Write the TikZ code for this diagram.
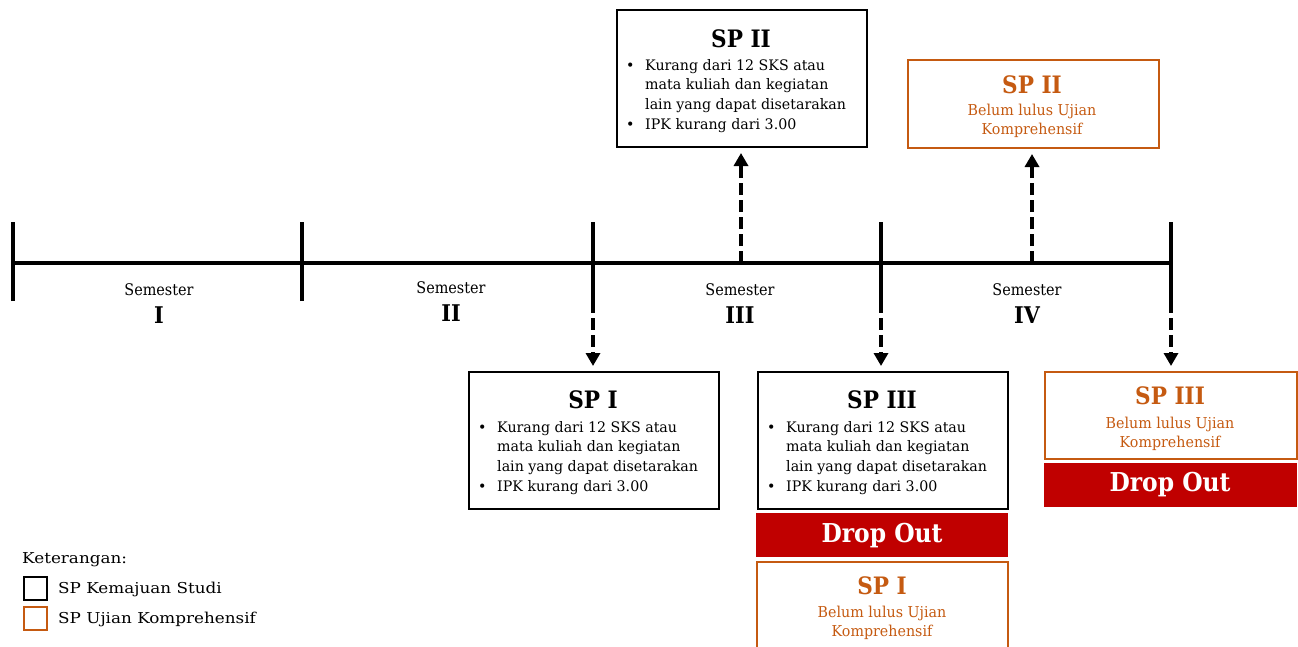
\documentclass[tikz,border=0pt]{standalone}
\usepackage{fontspec}
\setmainfont{DejaVu Serif}
\newfontfamily\ttlfont{DejaVu Serif}[FakeStretch=0.9]
\newfontfamily\bodyfont{DejaVu Serif}[FakeStretch=0.98]
\newfontfamily\orfont{DejaVu Serif}[FakeStretch=0.95]
\newfontfamily\semfont{DejaVu Serif}[FakeStretch=0.9]
\newfontfamily\legfont{DejaVu Serif}[FakeStretch=1.12]
\usetikzlibrary{arrows.meta}
\definecolor{orng}{HTML}{C55A11}
\definecolor{dred}{HTML}{C00000}
\newcommand{\bul}[1]{\makebox[19pt][l]{\textbullet}#1}
\newcommand{\cnt}[1]{\hspace*{19pt}#1}
\newcommand{\splist}{\parbox[t]{300pt}{\raggedright\bul{Kurang dari 12 SKS atau}\\\cnt{mata kuliah dan kegiatan}\\\cnt{lain yang dapat disetarakan}\\\bul{IPK kurang dari 3.00}}}
\begin{document}
\begin{tikzpicture}[x=1pt,y=-1pt,
  tl/.style={line width=4pt},
  kbox/.style={draw=black, line width=2pt, anchor=north west, minimum width=250pt, minimum height=137pt, inner sep=0pt},
  ubox/.style={draw=orng, line width=2pt, anchor=north west, minimum width=251pt, minimum height=88pt, inner sep=0pt},
  dropbox/.style={fill=dred, anchor=north west, minimum width=252pt, minimum height=44pt, inner sep=0pt},
  droptxt/.style={anchor=base, inner sep=0pt, text=white, font=\ttlfont\bfseries\fontsize{26}{26}\selectfont},
  ttl/.style={anchor=base, inner sep=0pt, font=\ttlfont\bfseries\fontsize{24}{24}\selectfont},
  lst/.style={anchor=base west, inner sep=0pt, font=\bodyfont\fontsize{14.5}{19.7}\selectfont},
  utxt/.style={anchor=base, inner sep=0pt, text=orng, font=\orfont\fontsize{15}{19.5}\selectfont},
  semlbl/.style={anchor=base, inner sep=0pt, font=\semfont\fontsize{16}{16}\selectfont},
  semnum/.style={anchor=base, inner sep=0pt, font=\ttlfont\bfseries\fontsize{23}{23}\selectfont},
  dasharr/.style={line width=4pt, dash pattern=on 12pt off 5pt, -{Triangle[width=14pt,length=13pt]}, shorten >=5pt},
  leg/.style={anchor=base west, inner sep=0pt, font=\legfont\fontsize{15}{15}\selectfont},
  legsq/.style={line width=2pt, anchor=north west, minimum size=23pt, inner sep=0pt}
]
\useasboundingbox (0,0) rectangle (1298,646);

% timeline
\coordinate (t1) at (13,301);
\coordinate (t2) at (302,301);
\coordinate (t3) at (593,301);
\coordinate (t4) at (881,301);
\coordinate (t5) at (1171,301);
\coordinate (m3) at (741,263);
\coordinate (m4) at (1032,263);
\draw[tl] (13,263) -- (1171,263);
\foreach \t in {t1,t2,t3,t4,t5} \draw[tl] (\t) -- ++(0,-79);

% semester labels
\node[semlbl] (s1) at (159,295) {Semester};
\node[semnum] (n1) at (159,323) {I};
\node[semlbl] (s2) at (451,293) {Semester};
\node[semnum] (n2) at (451,321) {II};
\node[semlbl] (s3) at (740,295) {Semester};
\node[semnum] (n3) at (740,323) {III};
\node[semlbl] (s4) at (1027,295) {Semester};
\node[semnum] (n4) at (1027,323) {IV};

% SP II (black, top)
\node[kbox] (kII) at (616,9) {};
\node[ttl] (kIIt) at (741,47) {SP II};
\node[lst] (kIIl) at (626,70) {\splist};

% SP I (black)
\node[kbox] (kI) at (468,371) {};
\node[ttl] (kIt) at (593,408) {SP I};
\node[lst] (kIl) at (478,432) {\splist};

% SP III (black)
\node[kbox] (kIII) at (757,371) {};
\node[ttl] (kIIIt) at (882,408) {SP III};
\node[lst] (kIIIl) at (767,432) {\splist};

% Drop out under SP III
\node[dropbox] (d1) at (756,513) {};
\node[droptxt] (d1t) at (882,542) {Drop Out};

% SP I (orange, bottom)
\node[ubox] (uI) at (756,561) {};
\node[ttl, text=orng] (uIt) at (882,594) {SP I};
\node[utxt] (uIl) at (882,617) {\parbox[t]{240pt}{\centering Belum lulus Ujian\\Komprehensif}};

% SP II (orange, top)
\node[ubox] (uII) at (907,59) {};
\node[ttl, text=orng] (uIIt) at (1032,93) {SP II};
\node[utxt] (uIIl) at (1032,115) {\parbox[t]{240pt}{\centering Belum lulus Ujian\\Komprehensif}};

% SP III (orange, right)
\node[ubox, minimum width=252pt, minimum height=87pt] (uIII) at (1044,371) {};
\node[ttl, text=orng] (uIIIt) at (1170,404) {SP III};
\node[utxt] (uIIIl) at (1170,428) {\parbox[t]{240pt}{\centering Belum lulus Ujian\\Komprehensif}};

% Drop out under orange SP III
\node[dropbox, minimum width=253pt] (d2) at (1044,463) {};
\node[droptxt] (d2t) at (1170,491) {Drop Out};

% arrows
\draw[dasharr] (t3) -- (t3 |- kI.north);
\draw[dasharr] (t4) -- (t4 |- kIII.north);
\draw[dasharr] (t5) -- (t5 |- uIII.north);
\draw[dasharr] (m3) -- (m3 |- kII.south);
\draw[dasharr] (m4) -- (m4 |- uII.south);

% legend
\node[leg] (lk) at (22,563) {Keterangan:};
\node[legsq, draw=black] (lq1) at (23,576) {};
\node[legsq, draw=orng] (lq2) at (23,606) {};
\node[leg] (l1) at (58,593) {SP Kemajuan Studi};
\node[leg] (l2) at (58,623) {SP Ujian Komprehensif};
\end{tikzpicture}
\end{document}
